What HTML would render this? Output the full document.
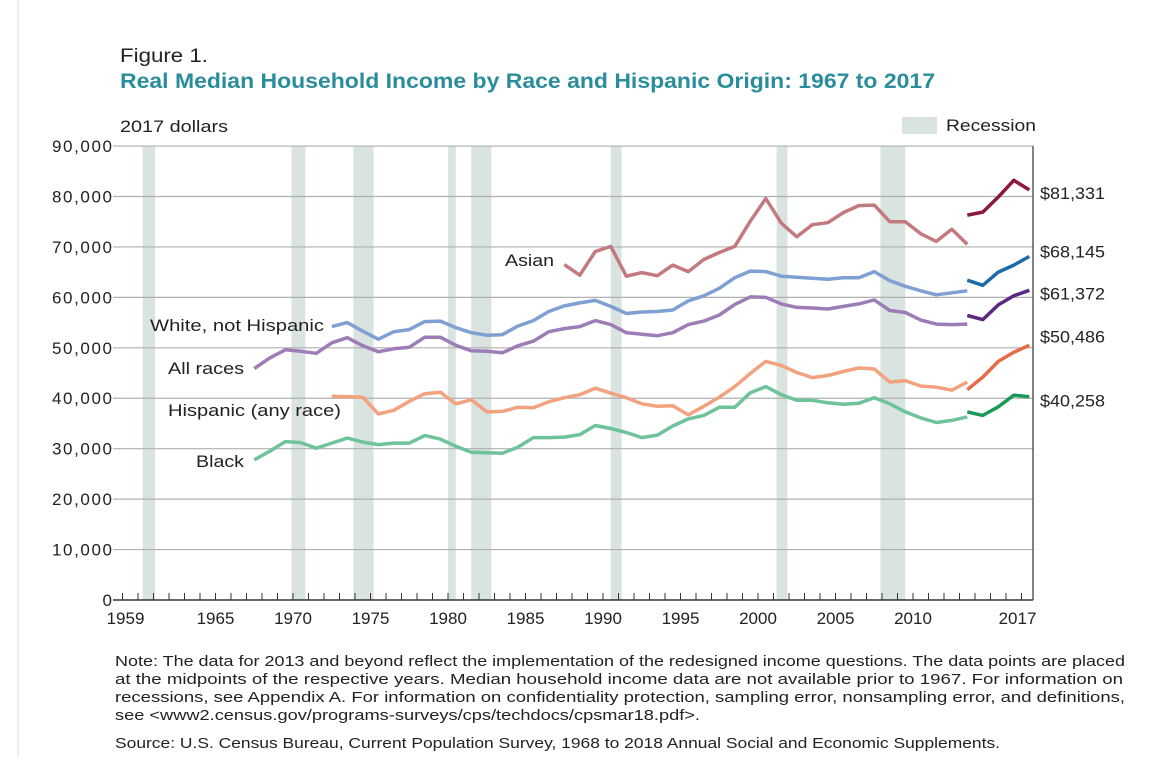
<!DOCTYPE html>
<html><head><meta charset="utf-8"><style>
body{margin:0;background:#fff;width:1151px;height:756px;overflow:hidden;font-family:"Liberation Sans",sans-serif}
svg text{font-family:"Liberation Sans",sans-serif}
</style></head><body>
<svg id="chart" width="1151" height="756" xmlns="http://www.w3.org/2000/svg">
<line x1="18" y1="0" x2="18" y2="756" stroke="#ddd"/>
<text x="120" y="62" font-size="19" fill="#222" textLength="88" lengthAdjust="spacingAndGlyphs">Figure 1.</text>
<text x="120" y="88" font-size="21" font-weight="bold" fill="#2a8d9c" textLength="815" lengthAdjust="spacingAndGlyphs">Real Median Household Income by Race and Hispanic Origin: 1967 to 2017</text>
<text x="120" y="132" font-size="17" fill="#222" textLength="108" lengthAdjust="spacingAndGlyphs">2017 dollars</text>
<rect x="902" y="117" width="35" height="17" fill="#d9e3df"/>
<text x="946" y="131" font-size="17" fill="#222" textLength="90" lengthAdjust="spacingAndGlyphs">Recession</text>
<g id="rec"></g><g id="grid"></g><g id="axes"></g><g id="lines"></g><g id="labels"></g>
<g font-size="15" fill="#222">
<text x="115" y="666" textLength="1010" lengthAdjust="spacingAndGlyphs">Note: The data for 2013 and beyond reflect the implementation of the redesigned income questions. The data points are placed</text>
<text x="115" y="684" textLength="1008" lengthAdjust="spacingAndGlyphs">at the midpoints of the respective years. Median household income data are not available prior to 1967. For information on</text>
<text x="115" y="702" textLength="1010" lengthAdjust="spacingAndGlyphs">recessions, see Appendix A. For information on confidentiality protection, sampling error, nonsampling error, and definitions,</text>
<text x="115" y="720" textLength="585" lengthAdjust="spacingAndGlyphs">see &lt;www2.census.gov/programs-surveys/cps/techdocs/cpsmar18.pdf&gt;.</text>
</g>
<text x="115" y="748" font-size="15" fill="#222" textLength="885" lengthAdjust="spacingAndGlyphs">Source: U.S. Census Bureau, Current Population Survey, 1968 to 2018 Annual Social and Economic Supplements.</text>
</svg>
<script>
const recessions=[[1960.3,1961.1],[1969.9,1970.8],[1973.9,1975.2],[1980.0,1980.5],[1981.5,1982.8],[1990.5,1991.2],[2001.2,2001.9],[2007.9,2009.5]];
const xTicks=[1959,1965,1970,1975,1980,1985,1990,1995,2000,2005,2010,2017];
const yTicks=[0,10000,20000,30000,40000,50000,60000,70000,80000,90000];
const allRaces=[45.9,48.0,49.6,49.3,48.9,51.0,52.0,50.4,49.2,49.8,50.1,52.1,52.1,50.5,49.4,49.3,49.0,50.4,51.3,53.2,53.8,54.2,55.4,54.6,53.0,52.7,52.4,53.0,54.6,55.3,56.5,58.6,60.1,60.0,58.7,58.0,57.9,57.7,58.2,58.7,59.5,57.4,57.0,55.5,54.7,54.6,54.7];
const allRacesNew=[56.4,55.6,58.5,60.3,61.4];
const whiteNH=[54.2,55.0,53.3,51.7,53.2,53.6,55.2,55.3,54.0,53.0,52.5,52.6,54.3,55.4,57.2,58.3,58.9,59.4,58.2,56.8,57.1,57.2,57.5,59.3,60.3,61.8,63.9,65.2,65.1,64.2,64.0,63.8,63.6,63.9,63.9,65.1,63.3,62.2,61.3,60.5,60.9,61.3];
const whiteNHNew=[63.4,62.4,65.0,66.4,68.1];
const asian=[66.5,64.4,69.1,70.1,64.2,64.9,64.3,66.4,65.1,67.5,68.9,70.1,75.1,79.6,74.7,72.0,74.4,74.8,76.8,78.2,78.3,75.0,75.0,72.6,71.1,73.5,70.5];
const asianNew=[76.3,76.9,79.9,83.2,81.3];
const hispanic=[40.4,40.3,40.2,36.9,37.6,39.4,40.9,41.2,38.9,39.7,37.3,37.4,38.2,38.1,39.3,40.1,40.7,42.0,41.0,40.1,38.9,38.4,38.5,36.7,38.4,40.2,42.3,44.9,47.3,46.5,45.1,44.1,44.5,45.3,46.0,45.8,43.2,43.5,42.4,42.2,41.6,43.2];
const hispanicNew=[41.7,44.2,47.3,49.1,50.5];
const black=[27.8,29.5,31.4,31.2,30.1,31.1,32.1,31.3,30.8,31.1,31.1,32.6,31.9,30.5,29.3,29.2,29.1,30.3,32.2,32.2,32.3,32.8,34.6,34.0,33.2,32.2,32.7,34.5,35.9,36.6,38.2,38.2,41.1,42.3,40.7,39.6,39.6,39.1,38.8,39.0,40.1,38.9,37.3,36.1,35.2,35.6,36.3];
const blackNew=[37.3,36.6,38.3,40.6,40.3];
const endLabels=["$81,331","$68,145","$61,372","$50,486","$40,258"];

const NS="http://www.w3.org/2000/svg";
const X=y=>293+(y-1970)*15.5;
const Y=v=>600-v*0.005044;
function mk(tag,attrs,parent){const e=document.createElementNS(NS,tag);for(const k in attrs)e.setAttribute(k,attrs[k]);document.getElementById(parent).appendChild(e);return e;}
recessions.forEach(r=>{const e=mk('rect',{x:X(r[0]),y:146,width:X(r[1])-X(r[0]),height:454,fill:'#d9e3df'},'rec');

});
yTicks.forEach(v=>{const l=mk('line',{x1:113,x2:1033,y1:Y(v),y2:Y(v),stroke:v?'#b0b0b0':'#333','stroke-width':v?1.2:1.5},'grid');


const s=v.toLocaleString('en-US');
const t=mk('text',{x:112,y:Y(v)+6,'font-size':17,'text-anchor':'end',fill:'#222'},'axes');t.textContent=s;
if(v)t.setAttribute('textLength',s.length*10);

});
const rb=mk('line',{x1:1033,x2:1033,y1:146,y2:600,stroke:'#333','stroke-width':1.2},'axes');


for(let yr=1959;yr<=2017;yr++){const t=mk('line',{x1:X(yr),x2:X(yr),y1:593,y2:600,stroke:'#333'},'axes');

}
xTicks.forEach(yr=>{const t=mk('text',{x:X(yr)+(yr===2017?-4:yr===1959?3:0),y:624,'font-size':17,'text-anchor':'middle',fill:'#222'},'axes');t.textContent=yr;

});
function line(vals,start,color,name){const d=vals.map((v,i)=>(i?'L':'M')+X(start+i+0.5).toFixed(1)+','+Y(v*1000).toFixed(1)).join('');
const p=mk('path',{d:d,fill:'none',stroke:color,'stroke-width':3.5,'stroke-linejoin':'round'},'lines');

}
line(asian,1987,'#c27a7e','asian-line');line(asianNew,2013,'#8a1840','asian-line-2013');
line(whiteNH,1972,'#7fa0d3','white-line');line(whiteNHNew,2013,'#1c6aa8','white-line-2013');
line(allRaces,1967,'#9d7db6','all-races-line');line(allRacesNew,2013,'#5a2880','all-races-line-2013');
line(hispanic,1972,'#f2a27f','hispanic-line');line(hispanicNew,2013,'#e76c46','hispanic-line-2013');
line(black,1967,'#6fc39b','black-line');line(blackNew,2013,'#199a57','black-line-2013');
const lastVals=[asianNew[4],whiteNHNew[4],allRacesNew[4],hispanicNew[4],blackNew[4]];
endLabels.forEach((s,i)=>{const t=mk('text',{x:1040,y:Y(lastVals[i]*1000)+[3,-5,3,-9,4][i]+6,'font-size':17,fill:'#222',textLength:65,lengthAdjust:'spacingAndGlyphs'},'labels');t.textContent=s;

});
[["Asian",505,266,49],["White, not Hispanic",150,331,174],["All races",168,374,76],["Hispanic (any race)",168,416,173],["Black",196,467,48]].forEach(a=>{const t=mk('text',{x:a[1],y:a[2],'font-size':17,fill:'#222',textLength:a[3],lengthAdjust:'spacingAndGlyphs'},'labels');t.textContent=a[0];

});
</script>
</body></html>
